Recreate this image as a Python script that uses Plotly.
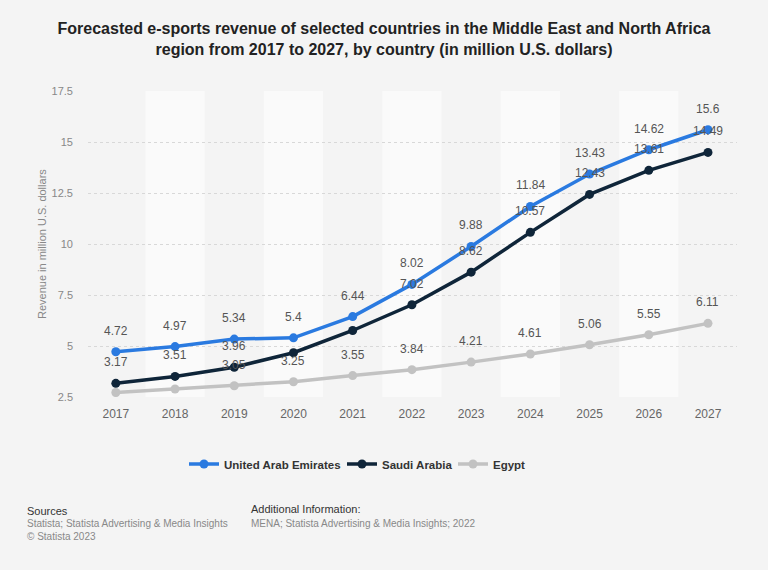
import plotly.graph_objects as go

years = ['2017', '2018', '2019', '2020', '2021', '2022', '2023', '2024', '2025', '2026', '2027']
uae = [4.72, 4.97, 5.34, 5.4, 6.44, 8.02, 9.88, 11.84, 13.43, 14.62, 15.6]
saudi = [3.17, 3.51, 3.96, 4.67, 5.76, 7.02, 8.62, 10.57, 12.43, 13.61, 14.49]
egypt = [2.72, 2.89, 3.05, 3.25, 3.55, 3.84, 4.21, 4.61, 5.06, 5.55, 6.11]
# labels hidden in the original where they collide
uae_show = [True] * 11
saudi_show = [True, True, True, False, False, True, True, True, True, True, True]
egypt_show = [False, False, True, True, True, True, True, True, True, True, True]
y_ticks = [2.5, 5, 7.5, 10, 12.5, 15, 17.5]

W, H = 768, 570
L, R, T, B = 88, 31, 91, 173
FONT = 'Liberation Sans, Arial, sans-serif'


def px_x(p):
    return (p - L) / (W - L - R)


def px_y(p):
    return (H - B - p) / (H - T - B)


# name, values, label flags, colour, legend id, legend left edge (px)
series = [
    ('United Arab Emirates', uae, uae_show, '#2a7ae0', 'legend', 184),
    ('Saudi Arabia', saudi, saudi_show, '#0f2539', 'legend2', 342),
    ('Egypt', egypt, egypt_show, '#c2c2c2', 'legend3', 453),
]

fig = go.Figure()

# alternating column bands
for i, yr in enumerate(years):
    if i % 2 == 1:
        fig.add_shape(type='rect', xref='x', yref='paper', x0=i - 0.5, x1=i + 0.5,
                      y0=0, y1=1, fillcolor='#fafafa', line_width=0, layer='below')

annotations = []
legends = {}
for name, vals, show, color, leg, leg_x in series:
    fig.add_trace(go.Scatter(
        x=years, y=vals, name=name, mode='lines+markers', legend=leg,
        line=dict(color=color, width=3.5),
        marker=dict(color=color, size=9),
    ))
    legends[leg] = dict(orientation='h', x=px_x(leg_x), xanchor='left', y=px_y(464),
                        yanchor='middle', itemwidth=30, bgcolor='rgba(0,0,0,0)',
                        font=dict(size=11.5, color='#333333', family=FONT, weight='bold'))
    # category axis: annotations take the category index
    for i, (v, s) in enumerate(zip(vals, show)):
        if s:
            annotations.append(dict(
                x=i, y=v, xref='x', yref='y', text=f'{v:g}', showarrow=False,
                yshift=21, font=dict(size=12, color='#555555', family=FONT),
            ))

annotations += [
    dict(text='Revenue in million U.S. dollars', textangle=-90, x=px_x(42), y=px_y(244),
         xref='paper', yref='paper', xanchor='center', yanchor='middle', showarrow=False,
         font=dict(size=11, color='#888888', family=FONT)),
    dict(text='Sources', x=px_x(25), y=px_y(511), xref='paper', yref='paper',
         xanchor='left', yanchor='middle', showarrow=False,
         font=dict(size=11, color='#333333', family=FONT)),
    dict(text='Statista; Statista Advertising & Media Insights<br>© Statista 2023',
         x=px_x(25), y=px_y(530), xref='paper', yref='paper', xanchor='left', yanchor='middle',
         align='left', showarrow=False, font=dict(size=10, color='#888888', family=FONT)),
    dict(text='Additional Information:', x=px_x(249), y=px_y(509), xref='paper', yref='paper',
         xanchor='left', yanchor='middle', showarrow=False,
         font=dict(size=11, color='#333333', family=FONT)),
    dict(text='MENA; Statista Advertising & Media Insights; 2022', x=px_x(249), y=px_y(523),
         xref='paper', yref='paper', xanchor='left', yanchor='middle', showarrow=False,
         font=dict(size=10, color='#888888', family=FONT)),
]

fig.update_layout(
    width=W, height=H,
    margin=dict(l=L, r=R, t=T, b=B),
    paper_bgcolor='#f4f4f4', plot_bgcolor='#f4f4f4',
    font=dict(family=FONT),
    title=dict(
        text='<b>Forecasted e-sports revenue of selected countries in the Middle East and North Africa<br>'
             'region from 2017 to 2027, by country (in million U.S. dollars)</b>',
        x=0.5, xref='container', xanchor='center', y=1 - 34 / H, yanchor='middle',
        font=dict(size=16, color='#222222', family=FONT),
    ),
    xaxis=dict(type='category', range=[-0.47, 10.49], showgrid=False, zeroline=False,
               showline=False, ticks='', ticklabelstandoff=8,
               tickfont=dict(size=12, color='#666666')),
    yaxis=dict(range=[2.5, 17.5], tickvals=y_ticks, ticktext=[f'{t:g}' for t in y_ticks],
               showgrid=True, gridcolor='#d8d8d8', griddash='dot', gridwidth=1,
               zeroline=False, showline=False, ticks='', ticklabelstandoff=14,
               tickfont=dict(size=11, color='#888888')),
    annotations=annotations,
    showlegend=True,
    **legends,
)

fig.write_html('out.html', config={'displayModeBar': False},
               post_script="document.body.style.margin='0';")
